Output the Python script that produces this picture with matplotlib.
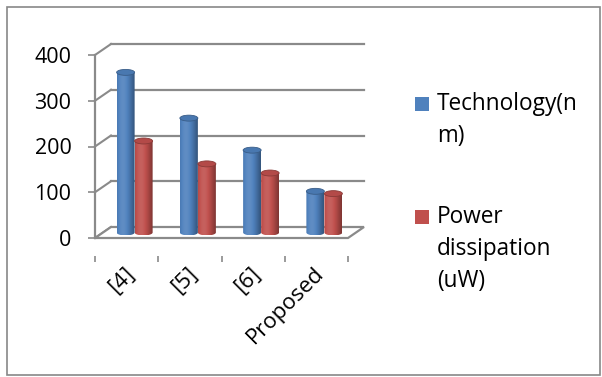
import numpy as np
import matplotlib.pyplot as plt
from matplotlib.patches import Rectangle, Ellipse, Polygon, PathPatch
from matplotlib.path import Path
from matplotlib.colors import to_rgb

plt.rcParams['font.family'] = ['Open Sans', 'DejaVu Sans']

categories = ['[4]', '[5]', '[6]', 'Proposed']
technology_nm = [350, 250, 180, 90]
power_uw = [200, 150, 130, 85]
series_labels = ['Technology(n\nm)', 'Power\ndissipation\n(uW)']
series_colors = ['#4F81BD', '#C0504D']
y_ticks = [0, 100, 200, 300, 400]

W, H = 602, 377
GRID = '#8A8A8A'


def px_rect(x0, y0, x1, y1):
    # pixel box (origin top-left) -> figure fraction [l, b, w, h]
    return [x0 / W, 1 - y1 / H, (x1 - x0) / W, (y1 - y0) / H]


fig = plt.figure(figsize=(W / 100, H / 100), dpi=100)
fig.patch.set_facecolor('white')

# chart area border
fig.add_artist(Rectangle((7 / W, 1 - 375 / H), 593 / W, 368 / H, transform=fig.transFigure,
                         fill=False, edgecolor='#878787', lw=1.2))

ax = fig.add_axes(px_rect(95, 55, 348, 238))
ax.set_facecolor('none')

# depth of the 3d box, in data units
px_x = 253 / len(categories)
px_y = 183 / 400
DX = 16 / px_x
DY = 11 / px_y
x0, x1 = -0.5, len(categories) - 0.5

# back wall gridlines and left wall diagonals
for v in y_ticks:
    ax.plot([x0, x0 + DX], [v, v + DY], color=GRID, lw=1.5, clip_on=False, zorder=1)
    if v > 0:
        ax.plot([x0 + DX, x1 + DX], [v + DY, v + DY], color=GRID, lw=1.6, clip_on=False, zorder=1)

# floor
floor = Polygon([(x0, 0), (x1, 0), (x1 + DX, DY), (x0 + DX, DY)], closed=True,
                facecolor='white', edgecolor=GRID, lw=1.6, clip_on=False, zorder=2)
ax.add_patch(floor)


def shade(color, n=64):
    base = np.array(to_rgb(color))
    t = np.linspace(0, 1, n)
    f = 0.8 + 0.28 * np.cos((t - 0.33) * np.pi)
    rows = []
    for k in f:
        if k >= 1:
            c = base + (1 - base) * (k - 1) * 1.2
        else:
            c = base * k
        rows.append(np.clip(c, 0, 1))
    return np.array(rows)[None, :, :]


def cylinder(xc, value, width, color, z):
    eh = 13
    yb = DY / 2
    yt = value + DY / 2
    th = np.linspace(np.pi, 2 * np.pi, 40)
    verts = [(xc - width / 2, yt)]
    verts += list(zip(xc + width / 2 * np.cos(th), yb + eh / 2 * np.sin(th)))
    verts += [(xc + width / 2, yt), (xc - width / 2, yt)]
    codes = [Path.MOVETO] + [Path.LINETO] * (len(verts) - 2) + [Path.CLOSEPOLY]
    body = PathPatch(Path(verts, codes), facecolor='none', edgecolor='none', zorder=z)
    ax.add_patch(body)
    im = ax.imshow(shade(color), extent=(xc - width / 2, xc + width / 2, yb - eh / 2, yt),
                   aspect='auto', interpolation='bilinear', zorder=z)
    im.set_clip_path(body)
    base = np.array(to_rgb(color))
    ax.add_patch(Ellipse((xc, yt), width, eh, facecolor=base * 0.93,
                         edgecolor=base * 0.72, lw=0.6, zorder=z + 0.1))


bar_w = 18 / px_x
for i in range(len(categories)):
    xc = i + DX / 2
    cylinder(xc - bar_w / 2, technology_nm[i], bar_w, series_colors[0], 3)
    cylinder(xc + bar_w / 2, power_uw[i], bar_w, series_colors[1], 3.5)

ax.set_xlim(x0, x1)
ax.set_ylim(0, 400)

for s in ['top', 'right', 'bottom']:
    ax.spines[s].set_visible(False)
ax.spines['left'].set_color(GRID)
ax.spines['left'].set_linewidth(1.6)
ax.spines['bottom'].set_position(('outward', 13))

ax.set_yticks(y_ticks)
ax.tick_params(axis='y', direction='out', length=5, width=1.2, color=GRID,
               labelsize=15.5, pad=12, labelcolor='black')

# category ticks sit on the boundaries, labels near the pair centres
ax.set_xticks(np.arange(len(categories) + 1) - 0.5)
ax.set_xticklabels([])
ax.set_xticks(np.arange(len(categories)) - 0.05, minor=True)
ax.set_xticklabels(categories, minor=True, rotation=45, ha='right', rotation_mode='anchor',
                   fontsize=16)
ax.tick_params(axis='x', which='major', direction='out', length=4.5, width=1.2, color=GRID)
ax.tick_params(axis='x', which='minor', length=0, pad=5)

# legend, one text per wrapped line
lx, sq, step = 415, 14, 32
first_base = [110, 223]
for lab, col, yb in zip(series_labels, series_colors, first_base):
    fig.add_artist(Rectangle((lx / W, 1 - (yb + 1) / H), sq / W, sq / H,
                             transform=fig.transFigure, facecolor=col, edgecolor='none'))
    for k, line in enumerate(lab.split('\n')):
        fig.text(437 / W, 1 - (yb + k * step) / H, line, fontsize=16.3, va='baseline', ha='left')

fig.savefig('out.png', dpi=100)
